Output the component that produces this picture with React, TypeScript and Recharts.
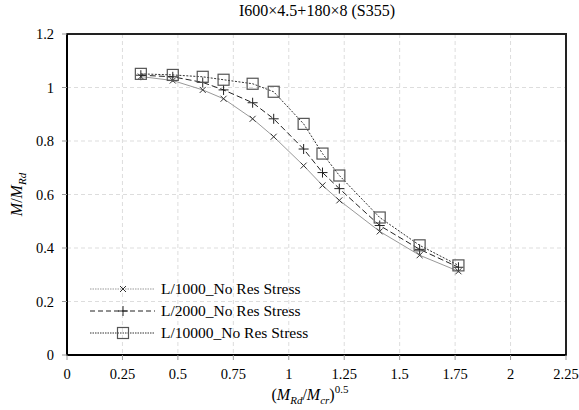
import React from "react";
import {
  LineChart,
  Line,
  XAxis,
  YAxis,
  CartesianGrid,
  Legend,
  ReferenceArea,
} from "recharts";

const slenderness = [0.333, 0.477, 0.612, 0.706, 0.837, 0.932, 1.067, 1.152, 1.228, 1.41, 1.59, 1.765];
const l1000 = [1.041, 1.026, 0.991, 0.958, 0.883, 0.816, 0.708, 0.634, 0.578, 0.462, 0.373, 0.313];
const l2000 = [1.046, 1.04, 1.019, 0.991, 0.943, 0.883, 0.77, 0.682, 0.622, 0.484, 0.395, 0.328];
const l10000 = [1.051, 1.047, 1.04, 1.029, 1.014, 0.984, 0.864, 0.753, 0.671, 0.514, 0.41, 0.335];

const xTicks = [0, 0.25, 0.5, 0.75, 1, 1.25, 1.5, 1.75, 2, 2.25];
const yTicks = [0, 0.2, 0.4, 0.6, 0.8, 1, 1.2];

const seriesNames = ["L/1000_No Res Stress", "L/2000_No Res Stress", "L/10000_No Res Stress"];

const data = slenderness.map((x, i) => ({
  x,
  a: l1000[i],
  b: l2000[i],
  c: l10000[i],
}));

const FONT = "Liberation Serif";

const Cross = ({ cx, cy }: any) => (
  <path d={`M${cx - 3},${cy - 3}L${cx + 3},${cy + 3}M${cx - 3},${cy + 3}L${cx + 3},${cy - 3}`} stroke="#333" strokeWidth={1} fill="none" />
);
const Plus = ({ cx, cy }: any) => (
  <path d={`M${cx - 5},${cy}L${cx + 5},${cy}M${cx},${cy - 5}L${cx},${cy + 5}`} stroke="#222" strokeWidth={1} fill="none" />
);
const Square = ({ cx, cy }: any) => (
  <rect x={cx - 5.5} y={cy - 5.5} width={11} height={11} stroke="#555" strokeWidth={1.2} fill="none" />
);

const styles = [
  { key: "a", color: "#999", dash: undefined, legendDash: "1.5 1", Dot: Cross },
  { key: "b", color: "#222", dash: "6 3", legendDash: "5 3", Dot: Plus },
  { key: "c", color: "#333", dash: "2 1.5", legendDash: "1.5 1", Dot: Square },
];

// legend drawn inside the plot, bottom-left
const LegendBox = () => (
  <div style={{ fontFamily: FONT, fontSize: 15.5, color: "#000" }}>
    {styles.map((s, i) => (
      <div key={s.key} style={{ display: "flex", alignItems: "center", height: 22 }}>
        <svg width={73} height={20}>
          <line x1={2} y1={10} x2={67} y2={10} stroke={s.color} strokeDasharray={s.legendDash} />
          <s.Dot cx={35} cy={10} />
        </svg>
        <span style={{ lineHeight: "22px" }}>{seriesNames[i]}</span>
      </div>
    ))}
  </div>
);

const XLabel = ({ viewBox }: any) => {
  const cx = viewBox.x + viewBox.width / 2;
  const y = viewBox.y + 45;
  return (
    <text x={cx - 45} y={y} fontFamily={FONT} fontSize={16} fill="#000">
      <tspan>(</tspan>
      <tspan fontStyle="italic">M</tspan>
      <tspan fontStyle="italic" fontSize={11} dy={4}>Rd</tspan>
      <tspan dy={-4}>/</tspan>
      <tspan fontStyle="italic">M</tspan>
      <tspan fontStyle="italic" fontSize={11} dy={4}>cr</tspan>
      <tspan dy={-4}>)</tspan>
      <tspan fontSize={11} dy={-7}>0.5</tspan>
    </text>
  );
};

const YLabel = ({ viewBox }: any) => {
  const cy = viewBox.y + viewBox.height / 2;
  const x = 22;
  return (
    <text x={x} y={cy} transform={`rotate(-90 ${x} ${cy})`} textAnchor="middle" fontFamily={FONT} fontSize={16} fill="#000">
      <tspan fontStyle="italic">M</tspan>
      <tspan>/</tspan>
      <tspan fontStyle="italic">M</tspan>
      <tspan fontStyle="italic" fontSize={11} dy={4}>Rd</tspan>
    </text>
  );
};

export default function App() {
  return (
    <div style={{ position: "absolute", left: 0, top: 0, width: 579, height: 410, background: "#fff" }}>
      <div
        style={{
          position: "absolute",
          left: 67,
          width: 500,
          top: 2,
          textAlign: "center",
          fontFamily: FONT,
          fontSize: 16,
          color: "#000",
        }}
      >
        I600×4.5+180×8 (S355)
      </div>
      <LineChart width={579} height={410} data={data} margin={{ top: 34, right: 13, bottom: 0, left: 0 }}>
        <CartesianGrid stroke="#ddd" strokeDasharray="4 3" />
        <XAxis
          dataKey="x"
          type="number"
          domain={[0, 2.25]}
          ticks={xTicks}
          height={55}
          tickSize={5}
          tickMargin={9}
          tickLine={{ stroke: "#999" }}
          axisLine={{ stroke: "#000", strokeWidth: 2 }}
          tick={{ fontFamily: FONT, fontSize: 14.5, fill: "#000" }}
          label={<XLabel />}
        />
        <YAxis
          type="number"
          domain={[0, 1.2]}
          ticks={yTicks}
          width={67}
          tickSize={5}
          tickMargin={8}
          tickLine={{ stroke: "#999" }}
          axisLine={{ stroke: "#000", strokeWidth: 2 }}
          tick={{ fontFamily: FONT, fontSize: 14.5, fill: "#000" }}
          label={<YLabel />}
        />
        <ReferenceArea x1={0} x2={2.25} y1={0} y2={1.2} stroke="#222" strokeWidth={2} fill="none" fillOpacity={0} />
        {styles.map((s, i) => (
          <Line
            key={s.key}
            dataKey={s.key}
            name={seriesNames[i]}
            type="linear"
            stroke={s.color}
            strokeWidth={1}
            strokeDasharray={s.dash}
            dot={(p: any) => <s.Dot key={p.index} cx={p.cx} cy={p.cy} />}
            activeDot={false}
            isAnimationActive={false}
          />
        ))}
        <Legend
          layout="horizontal"
          verticalAlign="middle"
          align="center"
          content={<LegendBox />}
          wrapperStyle={{ left: 88, top: 278, width: 280 }}
        />
      </LineChart>
    </div>
  );
}
